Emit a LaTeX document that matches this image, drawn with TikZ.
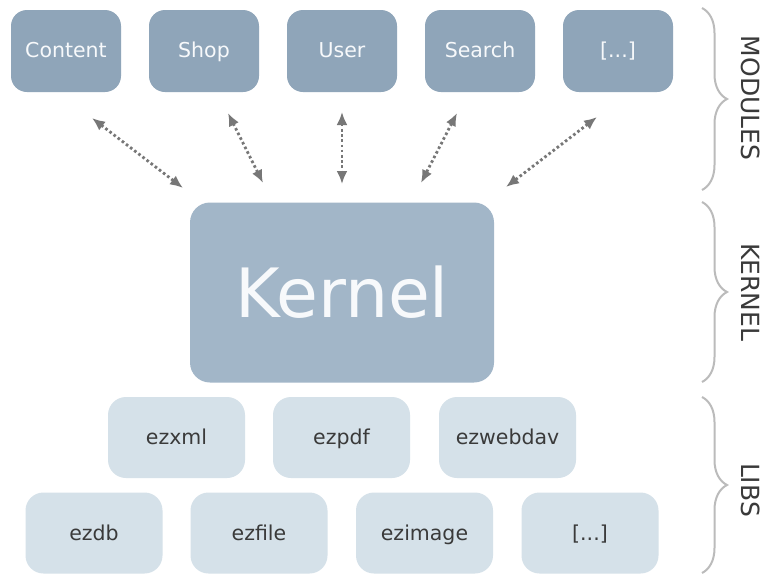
\documentclass[tikz,border=0pt]{standalone}
\usepackage{fontspec}
\setmainfont{DejaVu Sans}
\usetikzlibrary{arrows.meta,decorations.pathreplacing}
\definecolor{modcol}{HTML}{8FA5B9}
\definecolor{kercol}{HTML}{A2B6C8}
\definecolor{libcol}{HTML}{D5E1E9}
\definecolor{txtdark}{HTML}{3A3A3A}
\definecolor{txtlight}{HTML}{F7F9FB}
\definecolor{arrcol}{HTML}{777777}
\definecolor{bracecol}{HTML}{BBBBBB}
\tikzset{
  modbox/.style={fill=modcol, rounded corners=16pt, minimum width=110pt, minimum height=82pt,
    inner sep=0pt, text height=15pt, text depth=3pt, text=txtlight, font=\fontsize{20.5}{24}\selectfont},
  kerbox/.style={fill=kercol, rounded corners=20pt, minimum width=304pt, minimum height=180pt,
    inner sep=0pt, text height=54pt, text depth=5pt, text=txtlight, font=\fontsize{68}{80}\selectfont},
  libbox/.style={fill=libcol, rounded corners=18pt, minimum width=137pt, minimum height=81pt,
    inner sep=0pt, text height=15pt, text depth=1pt, text=txtdark, font=\fontsize{20.5}{24}\selectfont},
  dotarrow/.style={draw=arrcol, line width=2.8pt, dash pattern=on 2.6pt off 2.6pt,
    {Latex[length=13pt,width=11pt]}-{Latex[length=13pt,width=11pt]}},
  bracestyle/.style={draw=bracecol, line width=2pt, decorate,
    decoration={brace, amplitude=25pt}},
  sidelabel/.style={rotate=-90, text=txtdark, font=\fontsize{25}{30}\selectfont, inner sep=0pt}
}
\begin{document}
\begin{tikzpicture}[x=1pt,y=-1pt]
\useasboundingbox[fill=white] (0,0) rectangle (764,574);
% modules
\node[modbox] (content) at (66,51) {Content};
\node[modbox] (shop) at (204,51) {Shop};
\node[modbox] (user) at (342,51) {User};
\node[modbox] (search) at (480,51) {Search};
\node[modbox] (moremod) at (618,51) {[...]};
% kernel
\node[kerbox] (kernel) at (342,292.5) {Kernel};
% libs
\node[libbox] (ezxml) at (176.5,437.5) {ezxml};
\node[libbox] (ezpdf) at (341.5,437.5) {ezpdf};
\node[libbox] (ezwebdav) at (507.5,437.5) {ezwebdav};
\node[libbox] (ezdb) at (94,533) {ezdb};
\node[libbox] (ezfile) at (259,533) {ezfile};
\node[libbox] (ezimage) at (424.5,533) {ezimage};
\node[libbox] (morelib) at (590,533) {[...]};
% arrow end points
\coordinate (a1s) at (92,118);  \coordinate (a1e) at (183,188);
\coordinate (a2s) at (228,113); \coordinate (a2e) at (263,183);
\coordinate (a3s) at (342,112); \coordinate (a3e) at (342,184);
\coordinate (a4s) at (457,113); \coordinate (a4e) at (421,183);
\coordinate (a5s) at (597,117); \coordinate (a5e) at (506,187);
\draw[dotarrow] (a1s) -- (a1e);
\draw[dotarrow] (a2s) -- (a2e);
\draw[dotarrow] (a3s) -- (a3e);
\draw[dotarrow] (a4s) -- (a4e);
\draw[dotarrow] (a5s) -- (a5e);
% braces
\coordinate (b1s) at (702,8);   \coordinate (b1e) at (702,190);
\coordinate (b2s) at (702,202); \coordinate (b2e) at (702,382);
\coordinate (b3s) at (702,397); \coordinate (b3e) at (702,573);
\draw[bracestyle] (b1s) -- (b1e);
\draw[bracestyle] (b2s) -- (b2e);
\draw[bracestyle] (b3s) -- (b3e);
\node[sidelabel] (lmod) at (751,98) {MODULES};
\node[sidelabel] (lker) at (751,292) {KERNEL};
\node[sidelabel] (llib) at (751,490) {LIBS};
\end{tikzpicture}
\end{document}
